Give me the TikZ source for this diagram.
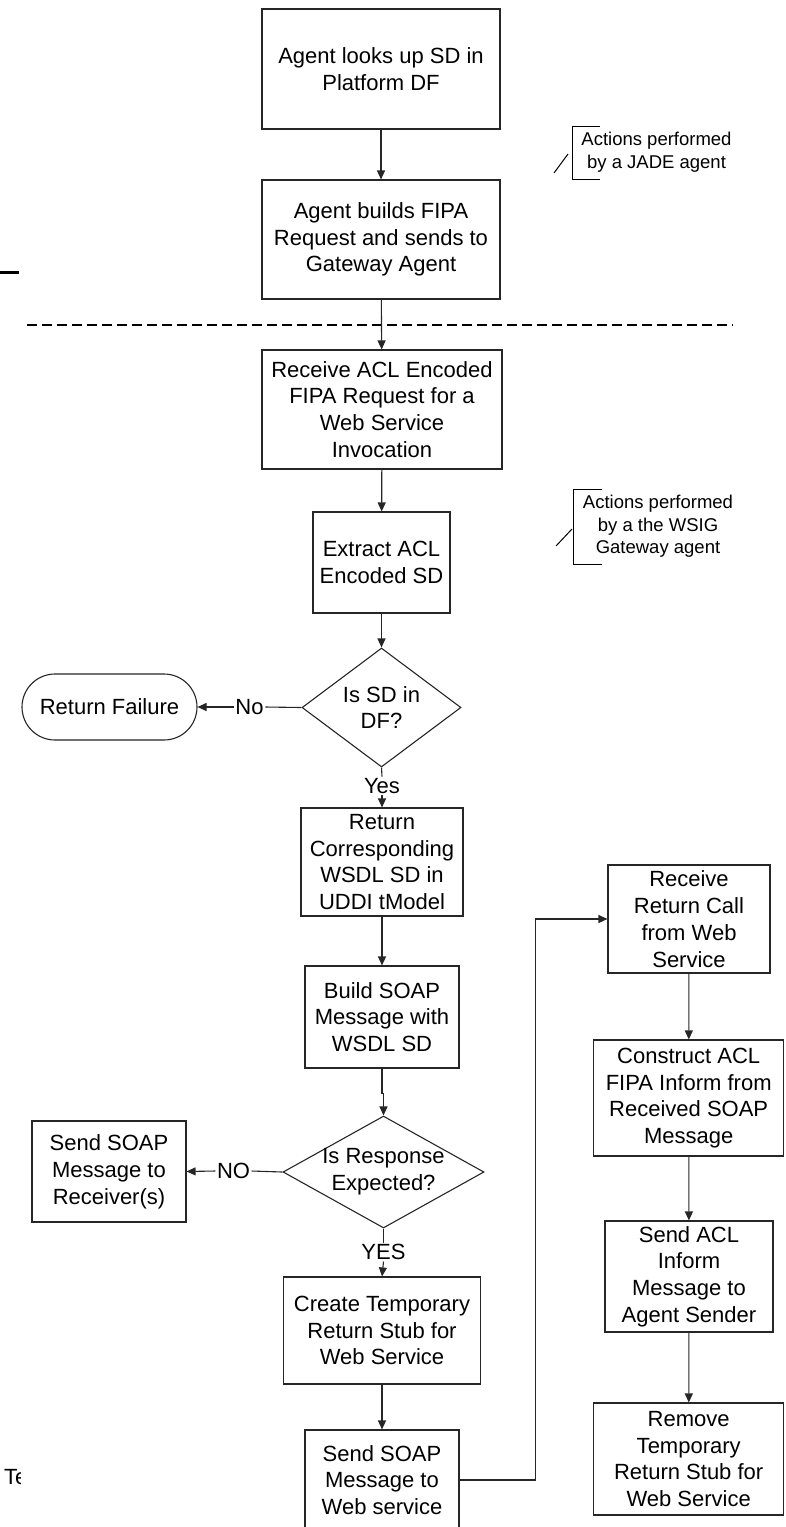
\documentclass[tikz,border=0pt]{standalone}
\usepackage{fontspec}
\setmainfont{Liberation Sans}
\usetikzlibrary{shapes.geometric,arrows.meta}
\begin{document}
\begin{tikzpicture}[x=1pt,y=-1pt,
  every node/.style={font=\fontsize{22}{26.8}\selectfont},
  box/.style={draw=black!85, line width=1.1pt, fill=white, align=center, inner sep=0pt},
  pill/.style={box, rounded corners=33pt},
  decision/.style={draw=black!85, line width=1.1pt, shape=diamond, inner sep=0pt},
  qtext/.style={align=center, inner sep=0pt},
  lbl/.style={inner sep=1.5pt},
  note/.style={align=center, inner sep=0pt, font=\fontsize{18.5}{22.5}\selectfont},
  conn/.style={draw=black!85, line width=1.1pt},
  arr/.style={conn, -{Triangle[length=9pt,width=8pt]}},
  bracket/.style={draw=black, line width=1pt}]

\useasboundingbox (0,0) rectangle (785,1527);

% separator between the JADE agent and the gateway part
\draw[line width=2.6pt, dash pattern=on 10pt off 5pt] (27,325) -- (733,325);
\draw[line width=3pt] (0,272) -- (19,272);

% main column
\node[box, minimum width=238, minimum height=120] (b1) at (381,69) {Agent looks up SD in\\Platform DF};
\node[box, minimum width=238, minimum height=119] (b2) at (381,239.5) {Agent builds FIPA\\Request and sends to\\Gateway Agent};
\node[box, minimum width=240, minimum height=119] (b3) at (382,409.5) {Receive ACL Encoded\\FIPA Request for a\\Web Service\\Invocation};
\node[box, minimum width=137, minimum height=101] (b4) at (381.5,562.5) {Extract ACL\\Encoded SD};
\node[decision, minimum width=159, minimum height=119] (d1) at (381.5,707.5) {};
\node[qtext] (d1t) at (d1.center) {Is SD in\\DF?};
\node[box, minimum width=162, minimum height=108] (b5) at (382,862) {Return\\Corresponding\\WSDL SD in\\UDDI tModel};
\node[box, minimum width=154, minimum height=102] (b6) at (382,1017) {Build SOAP\\Message with\\WSDL SD};
\node[decision, minimum width=201, minimum height=112] (d2) at (383.5,1172) {};
\node[qtext] (d2t) at (d2.center) {Is Response\\Expected?};
\node[box, minimum width=197, minimum height=107] (b7) at (382,1330.5) {Create Temporary\\Return Stub for\\Web Service};
\node[box, minimum width=154, minimum height=100] (b8) at (382,1480) {Send SOAP\\Message to\\Web service};

% side outcomes
\node[pill, minimum width=175, minimum height=66] (fail) at (109.5,707) {Return Failure};
\node[box, minimum width=154, minimum height=101] (recv) at (109,1171.5) {Send SOAP\\Message to\\Receiver(s)};

% return path column
\node[box, minimum width=162, minimum height=108] (r1) at (689,919) {Receive\\Return Call\\from Web\\Service};
\node[box, minimum width=190, minimum height=116] (r2) at (688.7,1098) {Construct ACL\\FIPA Inform from\\Received SOAP\\Message};
\node[box, minimum width=168, minimum height=111] (r3) at (689,1276.5) {Send ACL\\Inform\\Message to\\Agent Sender};
\node[box, minimum width=190, minimum height=112] (r4) at (688.7,1459) {Remove\\Temporary\\Return Stub for\\Web Service};

% branch labels
\node[lbl] (no) at (249.5,707) {No};
\node[lbl] (yes) at (382,786) {Yes};
\node[lbl] (no2) at (233.5,1171) {NO};
\node[lbl] (yes2) at (383.5,1252) {YES};

% connectors
\draw[arr] (b1) -- (b2);
\draw[arr] (b2) -- (b3);
\draw[arr] (b3) -- (b4);
\draw[arr] (b4) -- (d1.north);
\draw[conn] (d1.west) -- (no.east);
\draw[arr] (no.west) -- (fail.east);
\draw[conn] (d1.south) -- (yes.north);
\draw[arr] (yes.south) -- (b5.north);
\draw[arr] (b5) -- (b6);
\draw[arr] (b6.south) -- ++(0,25) -| (d2.north);
\draw[conn] (d2.west) -- (no2.east);
\draw[arr] (no2.west) -- (recv.east);
\draw[conn] (d2.south) -- (yes2.north);
\draw[arr] (yes2.south) -- (b7.north);
\draw[arr] (b7) -- (b8);
\draw[arr] (b8.east) -- ++(76,0) |- (r1.west);
\draw[arr] (r1) -- (r2);
\draw[arr] (r2) -- (r3);
\draw[arr] (r3) -- (r4);

% annotations
\node[note] (n1) at (656.5,152) {Actions performed\\by a JADE agent};
\draw[bracket] (600,126) -- (572,126) -- (572,179) -- (600,179);
\draw[bracket] (554,173) -- (568,154);
\node[note] (n2) at (658,526.5) {Actions performed\\by a the WSIG\\Gateway agent};
\draw[bracket] (602,489) -- (573,489) -- (573,564) -- (602,564);
\draw[bracket] (556,546) -- (572,529);

% clipped text at the lower left edge
\begin{scope}
  \clip (0,1455) rectangle (20,1500);
  \node[anchor=west, inner sep=0pt] (te) at (4,1477) {Te};
\end{scope}
\end{tikzpicture}
\end{document}
